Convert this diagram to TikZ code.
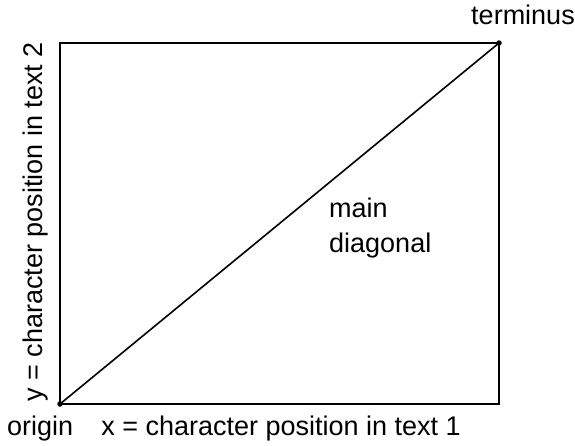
\documentclass[tikz,border=0pt]{standalone}
\usepackage{fontspec}
\setmainfont{Liberation Sans}
\begin{document}
\begin{tikzpicture}[x=1pt,y=-1pt,
  lbl/.style={inner sep=0pt,font=\fontsize{27}{35}\selectfont},
  dot/.style={circle,fill=black,inner sep=0pt,minimum size=5.5pt}]
\useasboundingbox (0,0) rectangle (575,445);
\coordinate (bl) at (60,404);
\coordinate (tr) at (499,43);
\draw[line width=1.3pt] (60,43) rectangle (499,404);
\node[dot] (origin) at (bl) {};
\node[dot] (terminus) at (tr) {};
\draw[line width=1.6pt] (origin.center) -- (terminus.center);
\node[lbl,anchor=base west] (ol) at (7,435) {origin};
\node[lbl,anchor=base] (xl) at (281,435) {x = character position in text 1};
\node[lbl,anchor=base] (tl) at (523,24) {terminus};
\node[lbl,anchor=base,rotate=90] (yl) at (42,222) {y = character position in text 2};
\node[lbl,anchor=base west,align=left] (md) at (329,217) {main};
\node[lbl,anchor=base west] (md2) at (329,252) {diagonal};
\end{tikzpicture}
\end{document}
